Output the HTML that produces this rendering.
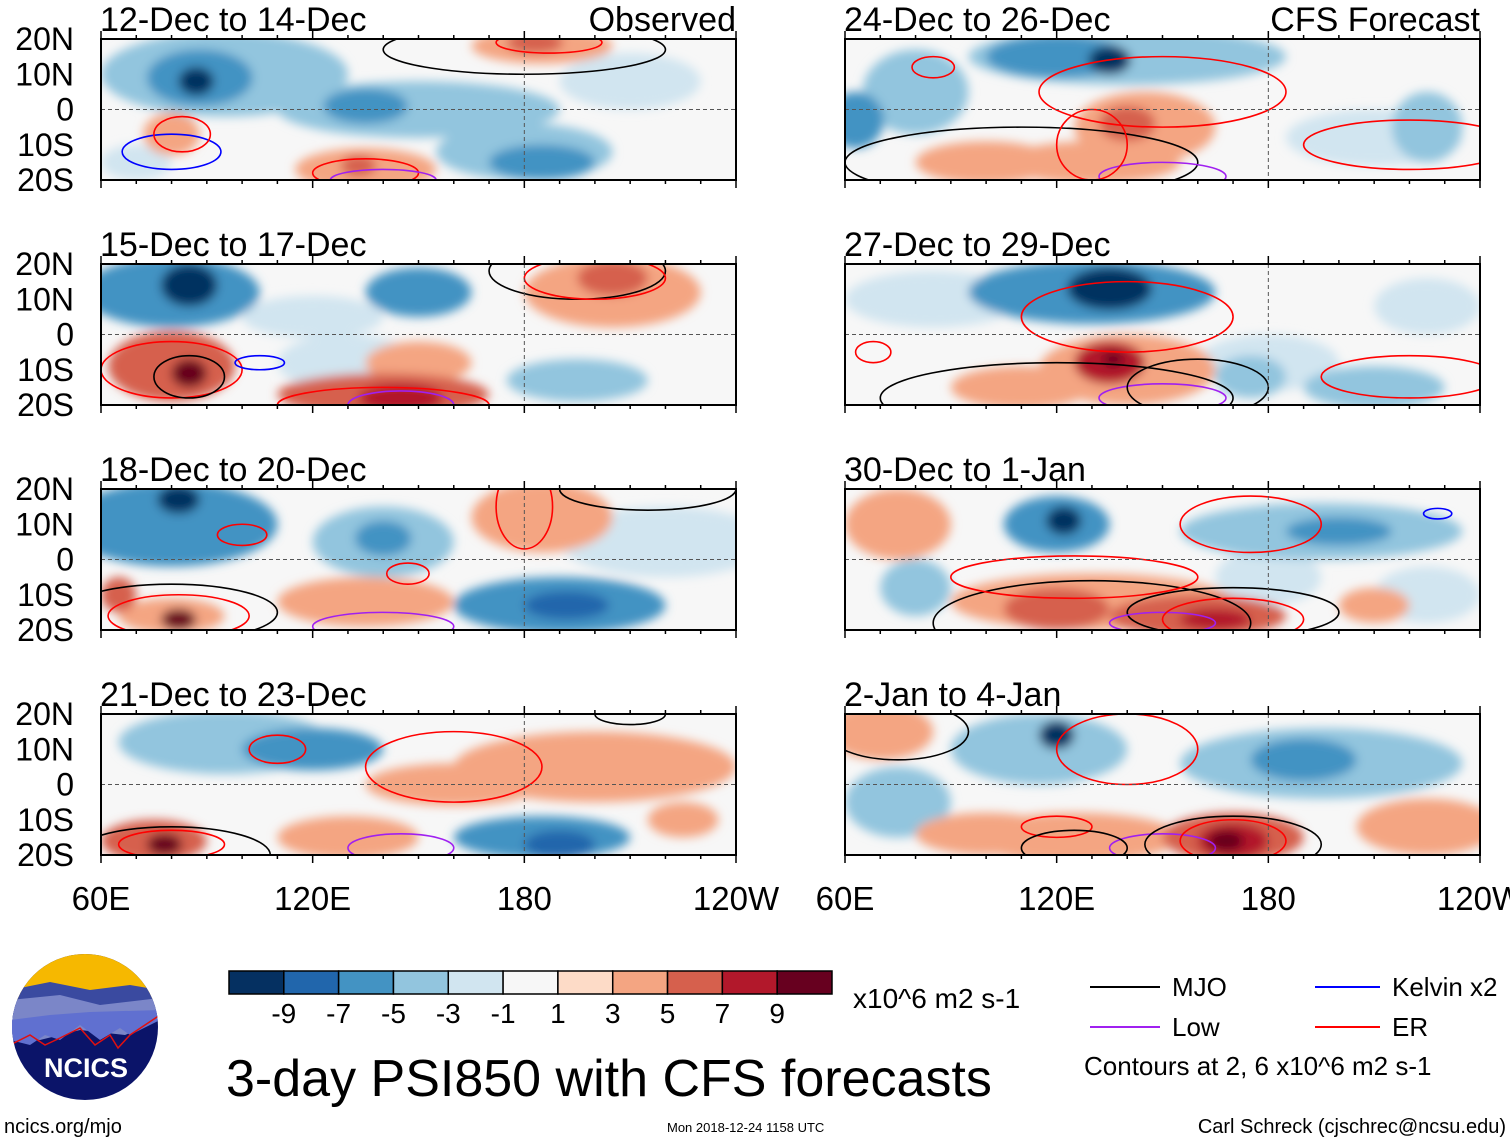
<!DOCTYPE html>
<html><head><meta charset="utf-8">
<style>
html,body{margin:0;padding:0;background:#fff;}
svg{display:block;font-family:"Liberation Sans",sans-serif;}
</style></head>
<body>
<svg id="fig" width="1510" height="1142" viewBox="0 0 1510 1142" xmlns="http://www.w3.org/2000/svg">
<defs>
<filter id="blur" x="-10%" y="-10%" width="120%" height="120%"><feGaussianBlur stdDeviation="5"/></filter>
<clipPath id="logoclip"><circle cx="85" cy="1027" r="73"/></clipPath>
</defs>
<g id="panels"></g>

<g id="cbar"></g>
<text x="853" y="1008" font-size="28">x10^6 m2 s-1</text>

<g>
<line x1="1090" y1="987" x2="1160" y2="987" stroke="#000" stroke-width="2"/>
<text x="1172" y="996" font-size="26">MJO</text>
<line x1="1090" y1="1027" x2="1160" y2="1027" stroke="#a020f0" stroke-width="2"/>
<text x="1172" y="1036" font-size="26">Low</text>
<line x1="1315" y1="987" x2="1380" y2="987" stroke="#0000ff" stroke-width="2"/>
<text x="1392" y="996" font-size="26">Kelvin x2</text>
<line x1="1315" y1="1027" x2="1380" y2="1027" stroke="#ff0000" stroke-width="2"/>
<text x="1392" y="1036" font-size="26">ER</text>
<text x="1084" y="1075" font-size="26">Contours at 2, 6 x10^6 m2 s-1</text>
</g>

<text x="226" y="1096" font-size="52">3-day PSI850 with CFS forecasts</text>
<text x="4" y="1133" font-size="20">ncics.org/mjo</text>
<text x="667" y="1132" font-size="13">Mon 2018-12-24 1158 UTC</text>
<text x="1506" y="1133" font-size="20" text-anchor="end">Carl Schreck (cjschrec@ncsu.edu)</text>

<g clip-path="url(#logoclip)">
<rect x="10" y="950" width="150" height="160" fill="#0b1469"/>
<rect x="10" y="950" width="150" height="50" fill="#f6b800"/>
<path d="M10,990 L50,982 L90,990 L130,985 L160,990 L160,1020 L10,1030Z" fill="#3a4aa0"/>
<path d="M10,1000 L60,995 L100,1005 L160,998 L160,1020 L125,1035 L80,1030 L40,1040 L10,1035Z" fill="#7b86c8"/>
<path d="M10,1020 L50,1015 L90,1012 L160,1010 L160,1020 L130,1035 L120,1028 L100,1040 L80,1025 L60,1040 L45,1035 L30,1045 L10,1040Z" fill="#6070d0"/>
<path d="M10,1045 L30,1035 L45,1045 L60,1038 L80,1028 L95,1045 L110,1035 L118,1048 L130,1035 L160,1015" fill="none" stroke="#e01010" stroke-width="1.5"/>
<text x="86" y="1077" font-size="27" font-weight="bold" fill="#fff" text-anchor="middle">NCICS</text>
</g>

<script>
const panelTitles = ["12-Dec to 14-Dec","15-Dec to 17-Dec","18-Dec to 20-Dec","21-Dec to 23-Dec","24-Dec to 26-Dec","27-Dec to 29-Dec","30-Dec to 1-Jan","2-Jan to 4-Jan"];
const latTicks = [20,10,0,-10,-20];
const latLabels = ["20N","10N","0","10S","20S"];
const lonTicks = [60,120,180,240];
const lonLabels = ["60E","120E","180","120W"];
const cbarColors = ["#053061","#2166ac","#4393c3","#92c5de","#d1e5f0","#f7f7f7","#fddbc7","#f4a582","#d6604d","#b2182b","#67001f"];
const cbarLabels = ["-9","-7","-5","-3","-1","1","3","5","7","9"];
const blobs1 = [[95,10,35,12,-3],[88,9,15,8,-5],[87,8,5,4,-9],[150,0,40,8,-3],[135,1,12,5,-5],[180,-12,25,8,-3],[185,-15,15,5,-5],[185,18,20,5,3],[183,19,8,3,5],[80,-7,8,6,3],[135,-17,20,6,3],[133,-16,5,3,5],[210,8,20,8,-1],[70,-15,10,5,-1]];
const blobs2 = [[80,12,25,10,-5],[85,14,8,6,-9],[150,12,15,7,-5],[205,12,25,10,3],[205,16,10,5,5],[80,-9,18,10,5],[85,-11,5,4,9],[140,-17,30,6,5],[145,-18,12,4,7],[195,-13,20,6,-3],[130,-8,20,8,-1],[150,-8,15,6,3],[120,5,20,6,-1]];
const blobs3 = [[80,10,30,12,-5],[82,17,6,4,-9],[140,5,20,10,-3],[140,6,8,5,-5],[185,12,20,10,3],[190,-13,30,8,-5],[192,-13,12,4,-7],[80,-16,15,5,3],[82,-17,5,3,9],[135,-12,25,7,3],[220,5,30,10,-1],[65,-10,5,5,5]];
const blobs4 = [[95,12,30,9,-3],[120,10,20,6,-5],[75,-16,15,6,5],[78,-17,5,3,9],[185,-15,25,6,-5],[190,-17,10,4,-7],[200,5,40,10,3],[160,0,25,6,3],[130,-15,20,6,3],[225,-10,10,5,3]];
const blobs5 = [[140,15,45,8,-3],[120,15,20,6,-5],[135,14,6,4,-9],[63,-3,8,8,-5],[145,-5,20,10,3],[140,-4,8,5,5],[130,-15,25,6,3],[210,-8,25,8,-1],[225,-5,10,10,-3],[100,-15,20,6,3],[80,5,15,12,-3]];
const blobs6 = [[130,12,35,9,-5],[135,13,12,6,-9],[140,-10,25,10,3],[135,-8,10,6,7],[136,-7,3,2,9],[110,-15,20,6,3],[180,-8,20,8,-1],[175,-12,10,6,-3],[210,-15,20,6,-3],[85,10,25,8,-1],[225,8,15,8,-1]];
const blobs7 = [[75,10,15,10,3],[120,10,15,8,-5],[122,11,5,4,-9],[195,8,40,8,-3],[200,8,15,4,-5],[130,-12,40,8,3],[120,-14,15,6,5],[160,-16,25,6,5],[165,-17,10,3,7],[80,-8,10,8,-3],[180,-5,15,8,-1],[225,-10,15,8,-1],[210,-13,10,5,3]];
const blobs8 = [[70,15,15,8,3],[115,10,25,10,-3],[120,14,5,4,-9],[195,6,40,10,-3],[190,7,15,6,-5],[75,-5,15,10,-3],[125,-15,30,7,3],[170,-15,20,7,5],[170,-16,10,5,7],[168,-16,5,3,9],[100,-14,20,6,3],[225,-12,20,8,3]];
const cont1 = [[180,17,40,7,"mjo"],[187,19,15,3,"er"],[80,-12,14,5,"kelvin"],[83,-7,8,5,"er"],[135,-18,15,4,"er"],[140,-20,15,3,"low"]];
const cont2 = [[195,18,25,8,"mjo"],[200,16,20,6,"er"],[80,-10,20,8,"er"],[85,-12,10,6,"mjo"],[105,-8,7,2,"kelvin"],[140,-20,30,5,"er"],[145,-20,15,4,"low"]];
const cont3 = [[80,-15,30,8,"mjo"],[82,-16,20,6,"er"],[100,7,7,3,"er"],[180,15,8,12,"er"],[215,20,25,6,"mjo"],[140,-19,20,4,"low"],[147,-4,6,3,"er"]];
const cont4 = [[80,-20,28,8,"mjo"],[80,-17,15,4,"er"],[110,10,8,4,"er"],[160,5,25,10,"er"],[145,-18,15,4,"low"],[210,20,10,3,"mjo"]];
const cont5 = [[110,-15,50,10,"mjo"],[150,5,35,10,"er"],[85,12,6,3,"er"],[150,-19,18,4,"low"],[220,-10,30,7,"er"],[130,-10,10,10,"er"]];
const cont6 = [[120,-18,50,10,"mjo"],[140,5,30,10,"er"],[68,-5,5,3,"er"],[150,-18,18,4,"low"],[220,-12,25,6,"er"],[160,-15,20,8,"mjo"]];
const cont7 = [[130,-18,45,12,"mjo"],[170,-15,30,7,"mjo"],[125,-5,35,6,"er"],[175,10,20,8,"er"],[150,-18,15,3,"low"],[170,-17,20,6,"er"],[228,13,4,1.5,"kelvin"]];
const cont8 = [[75,15,20,8,"mjo"],[140,10,20,10,"er"],[150,-18,15,4,"low"],[170,-16,15,6,"er"],[170,-17,25,8,"mjo"],[120,-12,10,3,"er"],[125,-18,15,5,"mjo"]];

const panelBlobs = [blobs1,blobs2,blobs3,blobs4,blobs5,blobs6,blobs7,blobs8];
const panelConts = [cont1,cont2,cont3,cont4,cont5,cont6,cont7,cont8];
const NS="http://www.w3.org/2000/svg";
const contColors = {mjo:"#000000",low:"#a020f0",kelvin:"#0000ff",er:"#ff0000"};
function colorFor(v){const i = v<0 ? (v+9)/2 : (v+11)/2; return cbarColors[Math.max(0,Math.min(10,Math.round(i)))];}
function mk(tag,attrs,parent){const e=document.createElementNS(NS,tag);for(const k in attrs)e.setAttribute(k,attrs[k]);parent.appendChild(e);return e;}
const W=635, H=141;
const root=document.getElementById("panels");
for(let p=0;p<8;p++){
  const col=p<4?0:1,row=p%4;
  const x0=col?845:101, y0=[39,264,489,714][row];
  const lonX=lon=>x0+(lon-60)*W/180;
  const latY=lat=>y0+(20-lat)*H/40;
  const g=mk("g",{},root);
  
  
  const cp=mk("clipPath",{id:"clip"+p},g);
  mk("rect",{x:x0,y:y0,width:W,height:H},cp);
  const body=mk("g",{"clip-path":"url(#clip"+p+")"},g);
  mk("rect",{x:x0,y:y0,width:W,height:H,fill:"#f7f7f7"},body);
  const fg=mk("g",{filter:"url(#blur)"},body);
  const bl=panelBlobs[p].slice().sort((a,b)=>Math.abs(a[4])-Math.abs(b[4]));
  for(const b of bl){
    const e=mk("ellipse",{cx:lonX(b[0]),cy:latY(b[1]),rx:b[2]*W/180,ry:b[3]*H/40,fill:colorFor(b[4])},fg);
    
    
  }
  for(const c of panelConts[p]){
    const e=mk("ellipse",{cx:lonX(c[0]),cy:latY(c[1]),rx:c[2]*W/180,ry:c[3]*H/40,fill:"none",stroke:contColors[c[4]],"stroke-width":1.6},body);
    
    
  }
  mk("line",{x1:x0,y1:latY(0),x2:x0+W,y2:latY(0),stroke:"#555","stroke-width":1,"stroke-dasharray":"4,3"},body);
  mk("line",{x1:lonX(180),y1:y0,x2:lonX(180),y2:y0+H,stroke:"#555","stroke-width":1,"stroke-dasharray":"4,3"},body);
  mk("rect",{x:x0,y:y0,width:W,height:H,fill:"none",stroke:"#000","stroke-width":2},g);
  for(let lon=60;lon<=240;lon+=10){const L=lon%60===0?8:4;
    mk("line",{x1:lonX(lon),y1:y0,x2:lonX(lon),y2:y0-L,stroke:"#000","stroke-width":1.5},g);
    mk("line",{x1:lonX(lon),y1:y0+H,x2:lonX(lon),y2:y0+H+L,stroke:"#000","stroke-width":1.5},g);}
  if(col===0){
    latTicks.forEach((t,i)=>{const e=mk("text",{x:x0-27,y:latY(t)+11,"font-size":32,"text-anchor":"end"},g);e.textContent=latLabels[i];
      
      });
  }
  const t=mk("text",{x:x0-1,y:y0-8,"font-size":34},g);t.textContent=panelTitles[p];
  
  
  if(row===0){const r=mk("text",{x:x0+W,y:y0-8,"font-size":34,"text-anchor":"end"},g);r.textContent=col?"CFS Forecast":"Observed";
    
    }
  if(row===3){lonTicks.forEach((lv,i)=>{const e=mk("text",{x:lonX(lv),y:910,"font-size":33,"text-anchor":"middle"},g);e.textContent=lonLabels[i];
    
    });}
}
const cb=document.getElementById("cbar");
const cbw=603/11;
cbarColors.forEach((c,i)=>{const r=mk("rect",{x:229+i*cbw,y:971,width:cbw,height:23,fill:c,stroke:"#000","stroke-width":1.5},cb);
  
  });
cbarLabels.forEach((l,i)=>{const e=mk("text",{x:229+(i+1)*cbw,y:1023,"font-size":28,"text-anchor":"middle"},cb);e.textContent=l;
  
  });
</script>
</svg>
</body></html>
